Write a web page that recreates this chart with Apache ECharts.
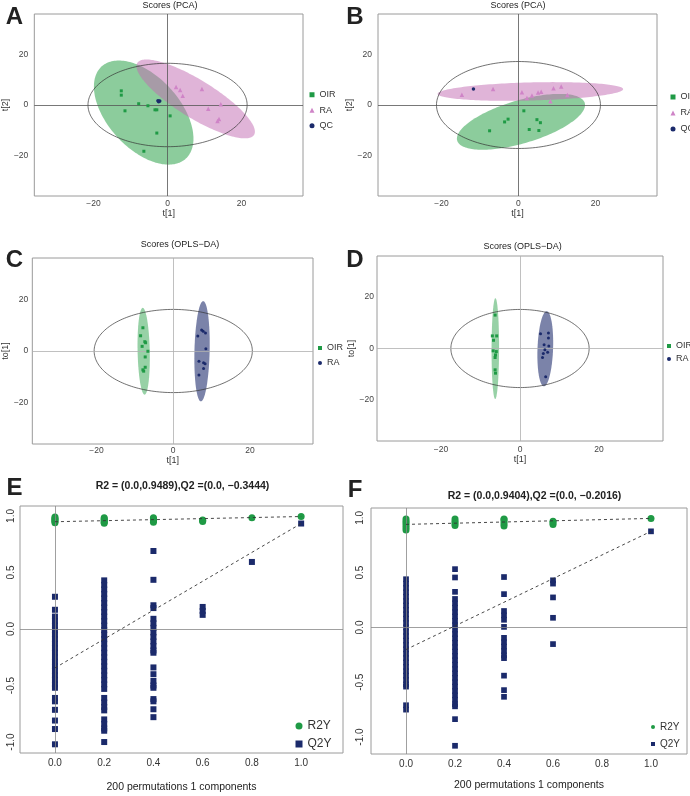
<!DOCTYPE html>
<html><head><meta charset="utf-8">
<script src="https://cdn.jsdelivr.net/npm/echarts@6/dist/echarts.min.js"></script>
<style>html,body{margin:0;padding:0;background:#fff}#c{width:690px;height:796px}</style>
</head><body><div id="c"></div>
<script>
// ---------- DATA ----------
// Panel A: PCA scores
const A_OIR = [[-12.5,5.6],[-12.5,3.9],[-7.8,0.5],[-5.3,-0.3],[-11.5,-2.3],[-3.4,-1.9],[-2.9,-1.9],[0.7,-4.3],[-2.9,-11.1],[-6.4,-18.3]];
const A_RA  = [[2.3,7.1],[3.4,5.9],[4.1,3.7],[9.3,6.3],[11.0,-1.5],[14.4,0.3],[13.9,-5.5],[13.5,-6.3]];
const A_QC  = [[-2.6,1.7],[-2.3,1.5],[-2.1,1.6],[-2.4,1.3]];
// ellipses: [centerX, centerY, halfWidthX, halfHeightY, correlation]
const A_ellOIR = [[-6.45,-3.0,13.45,20.6,-0.5]];
const A_ellRA  = [[7.6,2.4,16.0,15.6,-0.83]];
const A_T2     = [[0,0,21.5,16.5,0]];
// Panel B: PCA scores
const B_OIR = [[1.4,-2.3],[-2.7,-5.6],[-3.6,-6.7],[-7.5,-10.2],[4.8,-5.8],[5.7,-7.0],[2.8,-9.7],[5.3,-10.1]];
const B_RA  = [[-14.7,4.1],[-6.6,6.3],[0.9,5.0],[3.5,3.8],[5.1,4.9],[5.9,5.2],[9.1,6.6],[11.1,7.3],[12.7,4.0],[2.2,2.8],[8.3,1.5]];
const B_QC  = [[-11.7,6.3]];
const B_ellOIR = [[0.65,-6.65,16.65,11.05,0.6]];
const B_ellRA  = [[3.1,5.35,24.1,3.7,0.25]];
const B_T2     = [[0,0,21.3,17.2,0]];
// Panel C: OPLS-DA scores
const C_OIR = [[-7.9,9.0],[-8.5,5.9],[-7.4,3.6],[-7.2,3.2],[-8.1,1.8],[-6.6,-0.1],[-7.3,-2.3],[-7.3,-6.3],[-7.9,-7.3],[-7.7,-7.8]];
const C_RA  = [[7.4,8.1],[7.8,7.6],[8.4,7.0],[6.4,5.8],[8.5,0.9],[6.7,-4.0],[7.9,-4.5],[8.3,-4.9],[7.9,-6.8],[6.7,-9.3]];
const C_ellOIR = [[-7.7,-0.1,1.6,16.8,-0.15]];
const C_ellRA  = [[7.5,-0.1,2.0,19.4,0.15]];
const C_T2     = [[0,0,20.6,16.1,0]];
// Panel D: OPLS-DA scores
const D_OIR = [[-6.3,13.0],[-7.0,4.9],[-5.9,4.9],[-6.7,3.2],[-6.8,-0.9],[-6.0,-1.2],[-6.2,-2.5],[-6.3,-3.5],[-6.3,-8.3],[-6.2,-9.6]];
const D_RA  = [[5.2,5.7],[7.2,6.0],[7.2,4.1],[6.1,1.5],[7.3,1.0],[6.3,-0.5],[7.0,-1.5],[5.9,-1.9],[5.7,-3.5],[6.5,-11.0]];
const D_ellOIR = [[-6.25,-0.05,0.95,19.65,0.03]];
const D_ellRA  = [[6.4,-0.1,2.0,14.6,0.17]];
const D_T2     = [[0,0,17.5,15.2,0]];
const scoreTicks = [-20, 0, 20];

// Panels E/F: permutation tests (x = correlation of permuted Y)
const permX = [0, 0.2, 0.4, 0.6, 0.8, 1.0];
const permTicksX = [0, 0.2, 0.4, 0.6, 0.8, 1.0];
const permTicksY = [-1.0, -0.5, 0.0, 0.5, 1.0];
const E_R2Y = [
  [0.94,0.95,0.96,0.97,0.98,0.99],
  [0.935,0.945,0.955,0.965,0.975,0.985],
  [0.945,0.955,0.965,0.975,0.985],
  [0.95,0.96,0.965],
  [0.985],
  [0.995]
];
const E_Q2Y = [
  [0.285,0.17,0.11,0.07,0.03,-0.01,-0.05,-0.09,-0.13,-0.17,-0.21,-0.25,-0.29,-0.33,-0.37,-0.41,-0.45,-0.49,-0.52,-0.61,-0.64,-0.715,-0.81,-0.885,-1.02],
  [0.43,0.39,0.35,0.31,0.27,0.23,0.19,0.15,0.11,0.07,0.03,-0.01,-0.05,-0.09,-0.13,-0.17,-0.21,-0.25,-0.29,-0.33,-0.37,-0.41,-0.45,-0.49,-0.53,-0.61,-0.65,-0.69,-0.72,-0.80,-0.84,-0.88,-0.90,-1.0],
  [0.69,0.435,0.21,0.185,0.09,0.05,0.01,-0.03,-0.07,-0.11,-0.15,-0.19,-0.21,-0.34,-0.40,-0.46,-0.50,-0.52,-0.62,-0.64,-0.71,-0.78],
  [0.195,0.16,0.125],
  [0.593],
  [0.933]
];
const E_R2line = [0.9489, 0.995];
const E_Q2line = [-0.3444, 0.933];
const F_R2Y = [
  [0.89,0.91,0.93,0.95,0.97,0.99],
  [0.93,0.95,0.97,0.99],
  [0.925,0.945,0.965,0.985,0.99],
  [0.94,0.955,0.97],
  [],
  [0.995]
];
const F_Q2Y = [
  [0.44,0.40,0.36,0.32,0.28,0.24,0.20,0.16,0.12,0.08,0.04,0.00,-0.04,-0.08,-0.12,-0.16,-0.20,-0.24,-0.28,-0.32,-0.36,-0.40,-0.44,-0.48,-0.52,-0.54,-0.71,-0.75],
  [0.532,0.456,0.325,0.26,0.22,0.18,0.14,0.10,0.06,0.02,-0.02,-0.06,-0.10,-0.14,-0.18,-0.22,-0.26,-0.30,-0.34,-0.38,-0.42,-0.46,-0.50,-0.54,-0.58,-0.62,-0.66,-0.70,-0.72,-0.837,-1.08],
  [0.46,0.304,0.15,0.11,0.07,0.005,-0.095,-0.135,-0.175,-0.215,-0.255,-0.28,-0.44,-0.572,-0.633],
  [0.43,0.40,0.274,0.088,-0.152],
  [],
  [0.877]
];
const F_R2line = [0.9404, 0.995];
const F_Q2line = [-0.2016, 0.877];

// ---------- STYLE ----------
const FONT = "'Liberation Sans', Arial, Helvetica, sans-serif";
const GREEN = '#1f9a45', PINK = '#cf84c7', NAVY = '#1b2a6b';
const minusFmt = v => v < 0 ? '\u2212' + Math.abs(v) : String(v);
const permFmt = v => (v < 0 ? '-' : '') + Math.abs(v).toFixed(1);

const grids = [
  {left:27, top:14, width:276, height:182},
  {left:378, top:14, width:279, height:182},
  {left:28, top:258, width:285, height:186},
  {left:377, top:256, width:286, height:185},
  {left:20, top:506, width:323, height:247},
  {left:371, top:508, width:316, height:246}
].map(g => Object.assign(g, {show:true, borderColor:'#9a9a9a', borderWidth:1}));

function sx(i, min, max, margin, gap, name) {
  return {gridIndex:i, type:'value', min, max,
    axisLine:{show:false}, axisTick:{show:false}, splitLine:{show:false},
    axisLabel:{customValues:scoreTicks, formatter:minusFmt, fontSize:8.5, color:'#444', margin, fontFamily:FONT},
    name, nameLocation:'middle', nameGap:gap, nameTextStyle:{fontSize:9, color:'#333', fontFamily:FONT}};
}
function sy(i, min, max, margin, gap, name) {
  return {gridIndex:i, type:'value', min, max,
    axisLine:{show:false}, axisTick:{show:false}, splitLine:{show:false},
    axisLabel:{customValues:scoreTicks, formatter:minusFmt, fontSize:8.5, color:'#444', margin, fontFamily:FONT},
    name, nameLocation:'middle', nameGap:gap, nameRotate:90, nameTextStyle:{fontSize:9, color:'#333', fontFamily:FONT}};
}
function px(i, min, max, margin, gap) {
  return {gridIndex:i, type:'value', min, max,
    axisLine:{show:false}, axisTick:{show:false}, splitLine:{show:false},
    axisLabel:{customValues:permTicksX, formatter:permFmt, fontSize:10, color:'#333', margin, fontFamily:FONT},
    name:'200 permutations 1 components', nameLocation:'middle', nameGap:gap,
    nameTextStyle:{fontSize:10.5, color:'#222', fontFamily:FONT}};
}
function py(i, min, max, margin) {
  return {gridIndex:i, type:'value', min, max,
    axisLine:{show:false}, axisTick:{show:false}, splitLine:{show:false},
    axisLabel:{customValues:permTicksY, formatter:permFmt, fontSize:10, color:'#333', margin, rotate:90, fontFamily:FONT}};
}

function ellipse(i, data, fill, stroke, lw, z) {
  return {type:'custom', xAxisIndex:i, yAxisIndex:i, data, z, silent:true, clip:true,
    renderItem: (params, api) => {
      const cx = api.value(0), cy = api.value(1), wx = api.value(2), wy = api.value(3), r = api.value(4);
      const s = Math.sqrt(1 - r * r);
      const pts = [];
      for (let k = 0; k < 180; k++) {
        const t = 2 * Math.PI * k / 180;
        pts.push(api.coord([cx + wx * Math.cos(t), cy + wy * (r * Math.cos(t) + s * Math.sin(t))]));
      }
      return {type:'polygon', shape:{points:pts}, style:{fill, stroke, lineWidth:lw}};
    }};
}
function zeroLines(color) {
  return {silent:true, symbol:'none', animation:false, label:{show:false},
    lineStyle:{color, width:0.8, type:'solid'}, data:[{xAxis:0},{yAxis:0}]};
}
function scat(i, name, data, symbol, size, color, extra) {
  return Object.assign({type:'scatter', name, xAxisIndex:i, yAxisIndex:i, data, symbol, symbolSize:size,
    itemStyle:{color, opacity:1}, z:5, silent:true}, extra || {});
}
const flat = (cols) => cols.flatMap((vals, k) => vals.map(v => [permX[k], v]));
const endLine = (vals) => [[permX[0], vals[0]], [permX[permX.length - 1], vals[1]]];

const series = [
  // A
  ellipse(0, A_ellOIR, 'rgba(25,153,57,0.5)', 'none', 0, 1),
  ellipse(0, A_ellRA, 'rgba(193,105,177,0.5)', 'none', 0, 2),
  ellipse(0, A_T2, 'none', '#333', 0.7, 3),
  scat(0, 'OIR', A_OIR, 'rect', 3, GREEN, {markLine: zeroLines('#555')}),
  scat(0, 'RA', A_RA, 'triangle', 4.5, PINK),
  scat(0, 'QC', A_QC, 'circle', 3.5, NAVY),
  // B
  ellipse(1, B_ellOIR, 'rgba(25,153,57,0.5)', 'none', 0, 1),
  ellipse(1, B_ellRA, 'rgba(193,105,177,0.5)', 'none', 0, 2),
  ellipse(1, B_T2, 'none', '#333', 0.7, 3),
  scat(1, 'OIR', B_OIR, 'rect', 3, GREEN, {markLine: zeroLines('#555')}),
  scat(1, 'RA', B_RA, 'triangle', 4.5, PINK),
  scat(1, 'QC', B_QC, 'circle', 3.5, NAVY),
  // C
  ellipse(2, C_ellOIR, 'rgba(25,153,57,0.45)', 'none', 0, 1),
  ellipse(2, C_ellRA, 'rgba(27,42,107,0.58)', 'none', 0, 1),
  ellipse(2, C_T2, 'none', '#333', 0.7, 3),
  scat(2, 'OIR_o', C_OIR, 'rect', 3, GREEN, {markLine: zeroLines('#b0b0b0')}),
  scat(2, 'RA_o', C_RA, 'circle', 3, NAVY),
  // D
  ellipse(3, D_ellOIR, 'rgba(25,153,57,0.45)', 'none', 0, 1),
  ellipse(3, D_ellRA, 'rgba(27,42,107,0.58)', 'none', 0, 1),
  ellipse(3, D_T2, 'none', '#333', 0.7, 3),
  scat(3, 'OIR_o', D_OIR, 'rect', 3, GREEN, {markLine: zeroLines('#b0b0b0')}),
  scat(3, 'RA_o', D_RA, 'circle', 3, NAVY),
  // E
  scat(4, 'R2Y', flat(E_R2Y), 'circle', 7, GREEN, {markLine: zeroLines('#888'), z:3}),
  scat(4, 'Q2Y', flat(E_Q2Y), 'rect', 6, NAVY, {z:3}),
  {type:'line', xAxisIndex:4, yAxisIndex:4, data:endLine(E_R2line), symbol:'none', silent:true, z:6,
    lineStyle:{color:'#333', width:0.9, type:[3,3]}},
  {type:'line', xAxisIndex:4, yAxisIndex:4, data:endLine(E_Q2line), symbol:'none', silent:true, z:6,
    lineStyle:{color:'#333', width:0.9, type:[3,3]}},
  // F
  scat(5, 'R2Y', flat(F_R2Y), 'circle', 7, GREEN, {markLine: zeroLines('#888'), z:3}),
  scat(5, 'Q2Y', flat(F_Q2Y), 'rect', 5.7, NAVY, {z:3}),
  {type:'line', xAxisIndex:5, yAxisIndex:5, data:endLine(F_R2line), symbol:'none', silent:true, z:6,
    lineStyle:{color:'#333', width:0.9, type:[3,3]}},
  {type:'line', xAxisIndex:5, yAxisIndex:5, data:endLine(F_Q2line), symbol:'none', silent:true, z:6,
    lineStyle:{color:'#333', width:0.9, type:[3,3]}}
];

const legFmt = n => n.replace(/_.*/, '');
function leg(left, top, items, iw, fs, lh) {
  return {orient:'vertical', left, top, padding:0, itemGap:0, itemWidth:iw, itemHeight:iw, selectedMode:false,
    formatter:legFmt, data:items, textStyle:{fontSize:fs, color:'#333', lineHeight:lh, fontFamily:FONT}};
}

const txt = (x, y, text, size, bold) => ({type:'text', x, y, silent:true,
  style:{text, font:(bold ? 'bold ' : '') + size + 'px ' + FONT, fill:'#222', textAlign:'center', textVerticalAlign:'middle'}});

const option = {
  animation:false,
  backgroundColor:'#fff',
  grid: grids,
  xAxis: [
    sx(0, -36, 36.6, 3, 13, 't[1]'),
    sx(1, -36.5, 36, 3, 13, 't[1]'),
    sx(2, -36.7, 36.4, 2, 11, 't[1]'),
    sx(3, -36.2, 36.2, 4, 13, 't[1]'),
    px(4, -0.142, 1.17, 5, 29),
    px(5, -0.143, 1.147, 5, 26)
  ],
  yAxis: [
    sy(0, -36, 36, 6, 17, 't[2]'),
    sy(1, -36, 36, 6, 20, 't[2]'),
    sy(2, -36, 36, 4, 19, 'to[1]'),
    sy(3, -36, 36, 3, 19, 'to[1]'),
    py(4, -1.097, 1.088, 4),
    py(5, -1.155, 1.09, 6)
  ],
  legend: [
    leg(309.5, 87, [{name:'OIR', icon:'rect'}, {name:'RA', icon:'triangle'}, {name:'QC', icon:'circle'}], 5, 9, 15.5),
    leg(670.5, 89, [{name:'OIR', icon:'rect'}, {name:'RA', icon:'triangle'}, {name:'QC', icon:'circle'}], 5, 9, 16),
    leg(318, 340.5, [{name:'OIR_o', icon:'rect'}, {name:'RA_o', icon:'circle'}], 4, 9, 15),
    leg(667, 339.5, [{name:'OIR_o', icon:'rect'}, {name:'RA_o', icon:'circle'}], 4, 9, 13),
    leg(295.5, 717, [{name:'R2Y', icon:'circle'}, {name:'Q2Y', icon:'rect'}], 7, 12, 18),
    leg(651, 718.5, [{name:'R2Y', icon:'circle'}, {name:'Q2Y', icon:'rect'}], 4, 10, 17)
  ],
  graphic: [
    txt(14.5, 17, 'A', 24, true),
    txt(355, 17, 'B', 24, true),
    txt(14.5, 260, 'C', 24, true),
    txt(355, 260, 'D', 24, true),
    txt(14.5, 488, 'E', 24, true),
    txt(355, 490, 'F', 24, true),
    txt(170, 6, 'Scores (PCA)', 9, false),
    txt(518, 6, 'Scores (PCA)', 9, false),
    txt(180, 245, 'Scores (OPLS\u2212DA)', 9, false),
    txt(522.7, 247, 'Scores (OPLS\u2212DA)', 9, false),
    txt(182.5, 486, 'R2 = (0.0,0.9489),Q2 =(0.0, \u22120.3444)', 10.5, true),
    txt(534.5, 496, 'R2 = (0.0,0.9404),Q2 =(0.0, \u22120.2016)', 10.5, true)
  ],
  series
};
const chart = echarts.init(document.getElementById('c'), null, {renderer:'canvas'});
chart.setOption(option);
</script></body></html>
